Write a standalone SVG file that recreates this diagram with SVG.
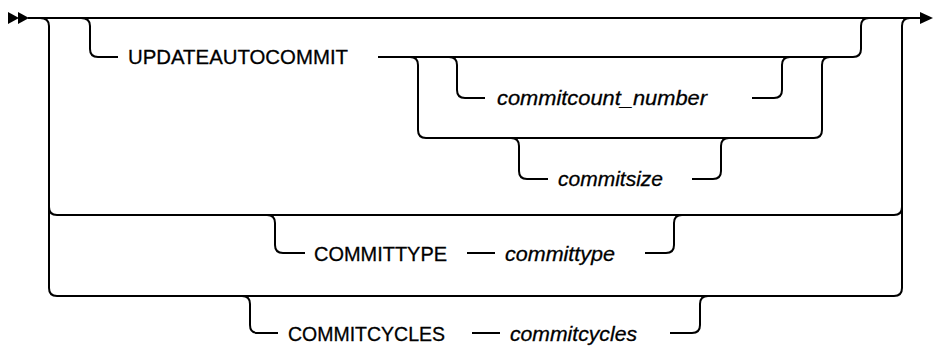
<svg xmlns="http://www.w3.org/2000/svg" width="934" height="348" viewBox="0 0 934 348">
<style>
.ln{fill:none;stroke:#000;stroke-width:2}
.kw{font-family:"Liberation Sans",Arial,sans-serif;font-size:21px;fill:#000;stroke:#000;stroke-width:0.3}
.var{font-family:"Liberation Sans",Arial,sans-serif;font-size:21px;font-style:italic;fill:#000;stroke:#000;stroke-width:0.3}
.ah{fill:#000}
</style>
<rect width="934" height="348" fill="#fff"/>
<g id="connectors">
<polygon class="ah" points="8,12 19,18 8,24"/>
<polygon class="ah" points="18,12 29,18 18,24"/>
<path class="ln" d="M28 18 H921"/>
<polygon class="ah" points="920,12 933,18 920,24"/>
<path class="ln" d="M40 18 Q49 18 49 26 V288 Q49 296 57 296 H894 Q902 296 902 288 V26 Q902 18 910 18"/>
<path class="ln" d="M49 207 Q49 215 57 215 H894 Q902 215 902 207"/>
<path class="ln" d="M81 18 Q90 18 90 26 V49 Q90 57 98 57 H118"/>
<path class="ln" d="M378 57 H853 Q861 57 861 49 V26 Q861 18 869 18"/>
<path class="ln" d="M449 57 Q457 57 457 65 V90 Q457 98 465 98 H485"/>
<path class="ln" d="M752 98 H774 Q782 98 782 90 V65 Q782 57 790 57"/>
<path class="ln" d="M410 57 Q418 57 418 65 V130 Q418 138 426 138 H814 Q822 138 822 130 V65 Q822 57 830 57"/>
<path class="ln" d="M511 138 Q519 138 519 146 V171 Q519 179 527 179 H548"/>
<path class="ln" d="M692 179 H713 Q721 179 721 171 V146 Q721 138 729 138"/>
<path class="ln" d="M267 215 Q275 215 275 223 V245 Q275 253 283 253 H305"/>
<path class="ln" d="M467 253 H495"/>
<path class="ln" d="M645 253 H666 Q674 253 674 245 V223 Q674 215 682 215"/>
<path class="ln" d="M242 296 Q250 296 250 304 V325 Q250 333 258 333 H278"/>
<path class="ln" d="M472 333 H500"/>
<path class="ln" d="M670 333 H692 Q700 333 700 325 V304 Q700 296 708 296"/>
</g>
<g id="n-updateautocommit"><text class="kw" x="128" y="64" textLength="220" lengthAdjust="spacingAndGlyphs">UPDATEAUTOCOMMIT</text></g>
<g id="n-commitcount"><text class="var" x="497" y="105" textLength="210" lengthAdjust="spacingAndGlyphs">commitcount_number</text></g>
<g id="n-commitsize"><text class="var" x="558" y="186" textLength="105" lengthAdjust="spacingAndGlyphs">commitsize</text></g>
<g id="n-committype-kw"><text class="kw" x="314" y="261" textLength="133" lengthAdjust="spacingAndGlyphs">COMMITTYPE</text></g>
<g id="n-committype"><text class="var" x="505" y="261" textLength="110" lengthAdjust="spacingAndGlyphs">committype</text></g>
<g id="n-commitcycles-kw"><text class="kw" x="288" y="341" textLength="157" lengthAdjust="spacingAndGlyphs">COMMITCYCLES</text></g>
<g id="n-commitcycles"><text class="var" x="510" y="341" textLength="127" lengthAdjust="spacingAndGlyphs">commitcycles</text></g>
</svg>
